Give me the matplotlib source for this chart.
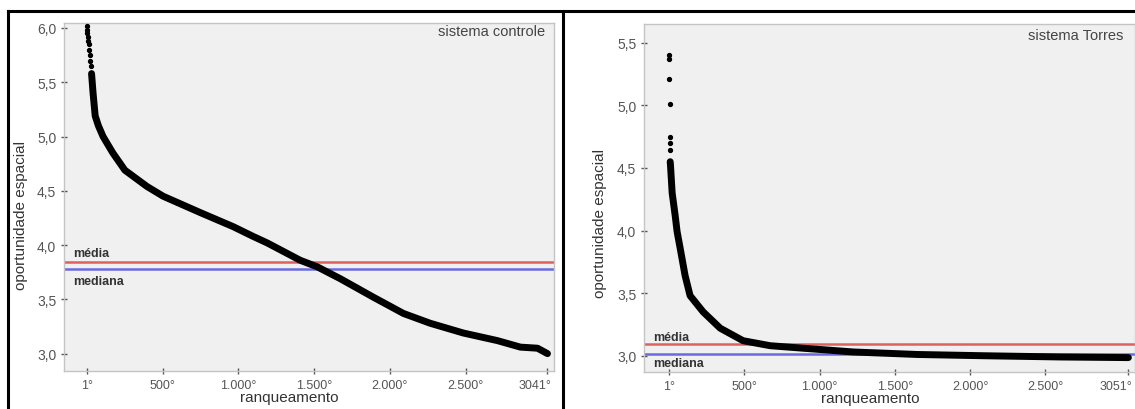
import matplotlib
matplotlib.use("Agg")
import matplotlib.pyplot as plt
from matplotlib.lines import Line2D
import matplotlib.transforms as mtransforms

plt.rcParams['font.family'] = ['Liberation Sans', 'DejaVu Sans']

# ---- data: left panel (sistema controle) ----
ctrl_sparse_rank = [1, 2, 3, 5, 8, 10, 14, 18, 22, 26]
ctrl_sparse_val = [6.02, 5.98, 5.95, 5.92, 5.88, 5.85, 5.80, 5.75, 5.70, 5.65]
ctrl_rank = [30, 40, 54, 75, 106, 170, 250, 396, 503, 747, 965, 1097, 1190,
             1408, 1520, 1673, 1891, 2090, 2266, 2485, 2710, 2862, 2975, 3041]
ctrl_val = [5.58, 5.40, 5.19, 5.10, 5.00, 4.85, 4.69, 4.54, 4.45, 4.30, 4.17,
            4.08, 4.02, 3.86, 3.80, 3.69, 3.52, 3.37, 3.28, 3.19, 3.12, 3.06,
            3.05, 3.00]
ctrl_mean = 3.84
ctrl_median = 3.78

# ---- data: right panel (sistema Torres) ----
torr_sparse_rank = [1, 2, 3, 4, 5, 6, 7]
torr_sparse_val = [5.40, 5.37, 5.21, 5.01, 4.75, 4.70, 4.64]
torr_rank = [8, 10, 21, 41, 54, 74, 107, 140, 227, 340, 492, 672, 891, 1223,
             1648, 2086, 2600, 3051]
torr_val = [4.55, 4.52, 4.30, 4.12, 3.99, 3.86, 3.64, 3.48, 3.35, 3.22, 3.12,
            3.08, 3.06, 3.03, 3.01, 3.00, 2.99, 2.985]
torr_mean = 3.09
torr_median = 3.01

y_ticks_ctrl = [3.0, 3.5, 4.0, 4.5, 5.0, 5.5, 6.0]
y_ticks_torr = [3.0, 3.5, 4.0, 4.5, 5.0, 5.5]
x_ticks_ctrl = [1, 500, 1000, 1500, 2000, 2500, 3041]
x_labels_ctrl = ['1°', '500°', '1.000°', '1.500°', '2.000°', '2.500°', '3041°']
x_ticks_torr = [1, 500, 1000, 1500, 2000, 2500, 3051]
x_labels_torr = ['1°', '500°', '1.000°', '1.500°', '2.000°', '2.500°', '3051°']

W, H = 1135, 410
fig = plt.figure(figsize=(W / 100, H / 100), dpi=100)
fig.patch.set_facecolor('white')


def px_axes(x0, y0, x1, y1):
    return fig.add_axes([x0 / W, 1 - y1 / H, (x1 - x0) / W, (y1 - y0) / H])


def style(ax, yt, xt, xl, title, sparse_r, sparse_v, rank, val, mean, med,
          xlim, ylim, txt_mean_y, txt_med_y, ylab_x, ylab_y, title_xy):
    ax.set_facecolor('#f0f0f0')
    for s in ax.spines.values():
        s.set_color('#c4c4c4')
        s.set_linewidth(1.0)
    ax.axhline(mean, color='#e06060', lw=1.8, zorder=2)
    ax.axhline(med, color='#6a6ae0', lw=1.8, zorder=2)
    ax.plot(rank, val, color='black', lw=5, solid_capstyle='round',
            solid_joinstyle='round', zorder=3)
    ax.plot(sparse_r, sparse_v, 'o', color='black', ms=2.8, zorder=3)
    ax.set_xlim(*xlim)
    ax.set_ylim(*ylim)
    ax.set_yticks(yt)
    ax.set_yticklabels([f"{v:.1f}".replace('.', ',') for v in yt])
    ax.set_xticks(xt)
    ax.set_xticklabels(xl)
    ax.tick_params(direction='inout', length=5, width=1, color='#555555',
                   labelcolor='#555555', pad=3)
    ax.tick_params(axis='y', labelsize=10)
    ax.tick_params(axis='x', labelsize=9)
    # last x tick label sits to the left of its tick, as in the original
    last = ax.get_xticklabels()[-1]
    last.set_horizontalalignment('right')
    last.set_transform(last.get_transform() +
                       mtransforms.ScaledTranslation(4 / 100, 0,
                                                     fig.dpi_scale_trans))
    ax.set_xlabel('ranqueamento', fontsize=11, color='#333333')
    ax.set_ylabel('oportunidade espacial', fontsize=11, color='#333333')
    ax.yaxis.set_label_coords(ylab_x, ylab_y)
    ax.xaxis.set_label_coords(0.46, -0.054)
    tr = mtransforms.blended_transform_factory(ax.transAxes, ax.transData)
    ax.text(0.018, txt_mean_y, 'média', transform=tr, fontsize=9,
            fontweight='bold', color='#333333', va='center', ha='left')
    ax.text(0.018, txt_med_y, 'mediana', transform=tr, fontsize=9,
            fontweight='bold', color='#333333', va='center', ha='left')
    ax.text(title_xy[0], title_xy[1], title, transform=ax.transAxes,
            fontsize=10.5, color='#444444', ha='right', va='center')


ax1 = px_axes(64, 24, 554, 372)
style(ax1, y_ticks_ctrl, x_ticks_ctrl, x_labels_ctrl, 'sistema controle',
      ctrl_sparse_rank, ctrl_sparse_val, ctrl_rank, ctrl_val, ctrl_mean,
      ctrl_median, (-152, 3084), (2.84, 6.046), 3.93, 3.67, -0.074, 0.45,
      (0.982, 0.977))

ax2 = px_axes(644, 25, 1135, 373)
style(ax2, y_ticks_torr, x_ticks_torr, x_labels_torr, 'sistema Torres',
      torr_sparse_rank, torr_sparse_val, torr_rank, torr_val, torr_mean,
      torr_median, (-166, 3095), (2.87, 5.65), 3.15, 2.94, -0.075, 0.43,
      (0.976, 0.968))

# black frame lines
def fig_line(x0, y0, x1, y1, lw=2.2):
    fig.add_artist(Line2D([x0 / W, x1 / W], [1 - y0 / H, 1 - y1 / H],
                          transform=fig.transFigure, color='black', lw=lw))

fig_line(8, 12, 1135, 12)
fig_line(8, 12, 8, 410)
fig_line(563, 12, 563, 410)

fig.savefig('out.png', dpi=100)
